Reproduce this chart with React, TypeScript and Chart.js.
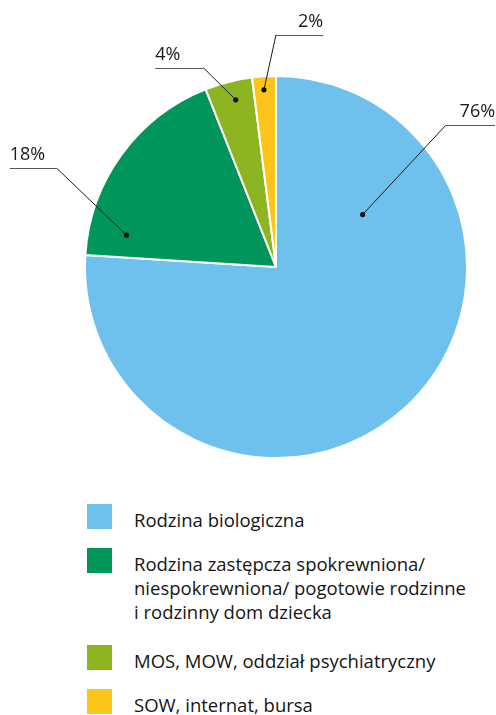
import { useEffect, useRef } from "react";
import { Chart, registerables } from "chart.js";

Chart.register(...registerables);

const categories = [
  ["Rodzina biologiczna"],
  ["Rodzina zastępcza spokrewniona/", "niespokrewniona/ pogotowie rodzinne", "i rodzinny dom dziecka"],
  ["MOS, MOW, oddział psychiatryczny"],
  ["SOW, internat, bursa"],
];
const values = [76, 18, 4, 2];
const valueLabels = ["76%", "18%", "4%", "2%"];
const colors = ["#6FC1ED", "#00955B", "#8CB521", "#FDC41A"];

// leader-line styling: dot position inside slice (fraction of angle, fraction of radius),
// elbow offset from pie centre (in radius units), horizontal tail end offset
const leaders = [
  { along: 0.215, rFrac: 0.53, ex: 0.889, ey: -0.742, tail: 1.147, align: "right" },
  { along: 0.13, rFrac: 0.8, ex: -1.147, ey: -0.516, tail: -1.394, align: "left" },
  { along: 0.56, rFrac: 0.9, ex: -0.379, ey: -1.042, tail: -0.632, align: "left" },
  { along: 0.46, rFrac: 0.93, ex: 0.0, ey: -1.216, tail: 0.247, align: "right" },
];

const legendTops = [504, 548, 645, 689];

const leaderPlugin = {
  id: "leaders",
  afterDatasetsDraw(chart: any) {
    const ctx = chart.ctx;
    const meta = chart.getDatasetMeta(0);
    meta.data.forEach((arc: any, i: number) => {
      const p = arc.getProps(["x", "y", "startAngle", "endAngle", "outerRadius"], true);
      const L = leaders[i];
      const R = p.outerRadius;
      const a = p.startAngle + L.along * (p.endAngle - p.startAngle);
      const dx = p.x + Math.cos(a) * R * L.rFrac;
      const dy = p.y + Math.sin(a) * R * L.rFrac;
      const exX = p.x + L.ex * R;
      const exY = p.y + L.ey * R;
      const tX = p.x + L.tail * R;
      ctx.save();
      ctx.strokeStyle = "#1a1a1a";
      ctx.lineWidth = 1;
      ctx.beginPath();
      ctx.moveTo(dx, dy);
      ctx.lineTo(exX, exY);
      ctx.stroke();
      ctx.strokeStyle = "#555";
      ctx.beginPath();
      ctx.moveTo(exX, Math.round(exY) + 0.5);
      ctx.lineTo(tX, Math.round(exY) + 0.5);
      ctx.stroke();
      ctx.fillStyle = "#111";
      ctx.beginPath();
      ctx.arc(dx, dy, 2.6, 0, Math.PI * 2);
      ctx.fill();
      ctx.font = "18px 'Open Sans'";
      ctx.fillStyle = "#1a1a1a";
      ctx.textBaseline = "alphabetic";
      ctx.textAlign = L.align === "right" ? "right" : "left";
      ctx.fillText(valueLabels[i], tX, Math.round(exY) - 8);
      ctx.restore();
    });
  },
};

export default function App() {
  const ref = useRef<HTMLCanvasElement>(null);
  useEffect(() => {
    if (!ref.current) return;
    const chart = new Chart(ref.current, {
      type: "pie",
      data: {
        labels: categories.map((c) => c.join(" ")),
        datasets: [
          {
            data: values,
            backgroundColor: colors,
            borderColor: "#ffffff",
            borderWidth: 2,
          },
        ],
      },
      options: {
        responsive: false,
        animation: false,
        events: [],
        layout: { padding: { left: 84, right: 28, top: 75, bottom: 21 } },
        plugins: {
          legend: { display: false },
          tooltip: { enabled: false },
        },
      },
      plugins: [leaderPlugin],
    });
    return () => chart.destroy();
  }, []);

  return (
    <div
      style={{
        position: "absolute",
        left: 0,
        top: 0,
        width: 496,
        height: 715,
        background: "#fff",
        overflow: "hidden",
        fontFamily: "'Open Sans', sans-serif",
      }}
    >
      <canvas ref={ref} width={496} height={480} style={{ position: "absolute", left: 0, top: 0 }} />
      {categories.map((lines, i) => (
        <div key={i}>
          <div
            style={{
              position: "absolute",
              left: 87,
              top: legendTops[i],
              width: 25,
              height: 25,
              background: colors[i],
            }}
          />
          <div
            style={{
              position: "absolute",
              left: 134,
              top: legendTops[i] + 3.8,
              fontSize: 18.5,
              lineHeight: "24px",
              color: "#151515",
              whiteSpace: "nowrap",
            }}
          >
            {lines.map((l, j) => (
              <div key={j}>{l}</div>
            ))}
          </div>
        </div>
      ))}
    </div>
  );
}
